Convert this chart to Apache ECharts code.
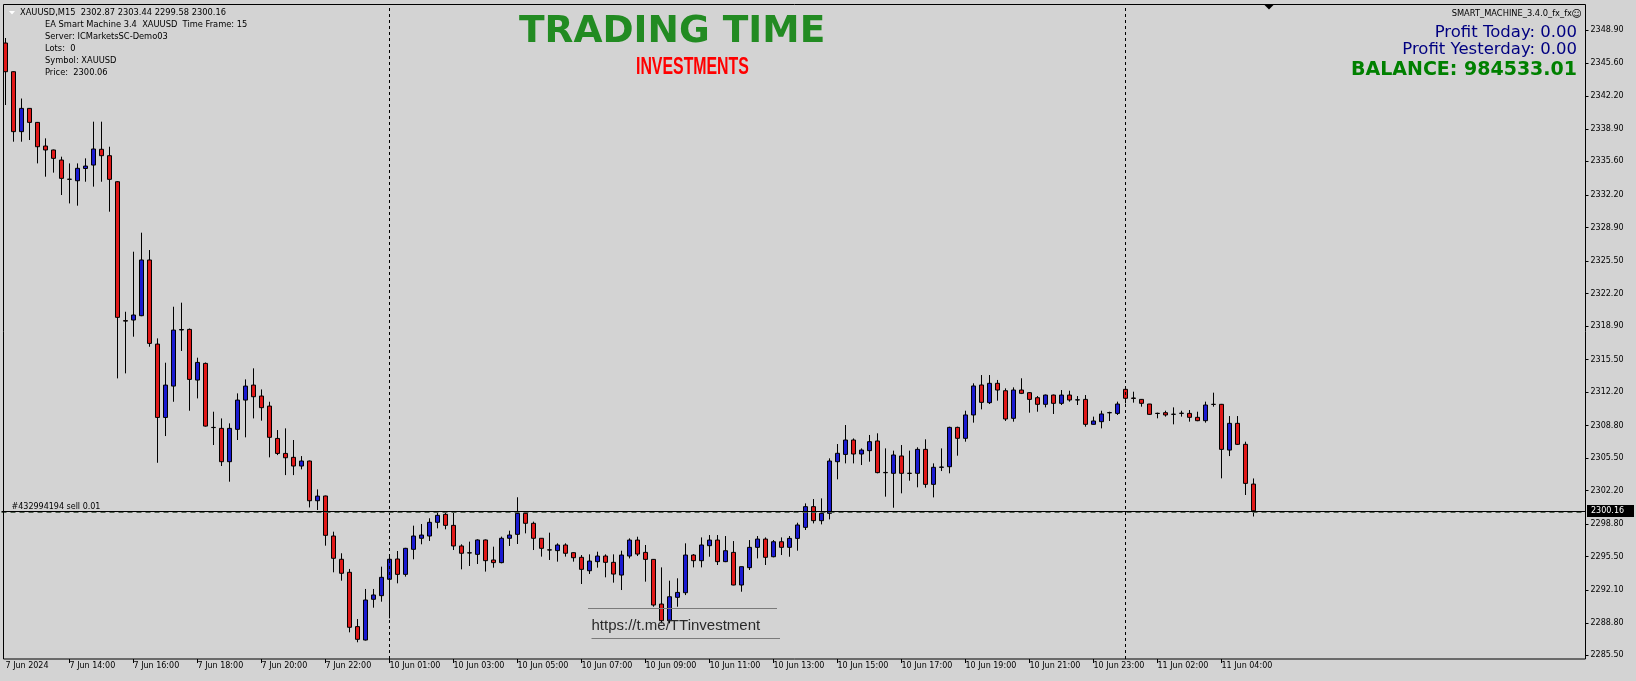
<!DOCTYPE html>
<html><head><meta charset="utf-8">
<script src="https://cdn.jsdelivr.net/npm/echarts@6/dist/echarts.min.js"></script>
<style>html,body{margin:0;padding:0;background:#D3D3D3;overflow:hidden}#c{width:1636px;height:681px}</style>
</head><body><div id="c"></div>
<script>
// 15-minute XAUUSD bars, 7 Jun 12:00 .. 11 Jun 05:00
const opens = [2347.61,2344.70,2338.62,2340.98,2339.56,2337.16,2336.76,2335.74,2333.80,2333.64,
2334.88,2335.23,2336.83,2336.18,2333.54,2319.45,2319.51,2319.95,2325.60,2317.07,
2309.63,2312.81,2318.50,2318.56,2313.42,2315.11,2308.62,2308.52,2305.14,2308.42,
2311.39,2312.91,2311.80,2310.78,2307.50,2305.98,2305.58,2304.70,2305.21,2301.18,
2301.66,2297.60,2295.24,2293.92,2288.41,2287.05,2291.18,2291.55,2293.21,2295.27,
2293.71,2296.25,2297.37,2297.60,2298.99,2299.80,2298.68,2296.59,2295.90,2295.74,
2297.20,2295.17,2294.90,2297.37,2297.77,2299.90,2298.89,2297.37,2296.20,2296.12,
2296.69,2295.91,2295.44,2294.08,2295.00,2295.57,2294.93,2293.64,2295.57,2297.19,
2295.94,2295.23,2290.70,2289.01,2291.38,2291.85,2295.67,2295.10,2296.62,2297.19,
2295.00,2295.94,2292.63,2294.39,2296.45,2297.29,2295.50,2297.02,2296.45,2297.36,
2298.48,2300.58,2299.16,2299.90,2305.14,2305.88,2307.34,2305.92,2306.26,2307.24,
2304.05,2303.96,2305.72,2303.97,2303.96,2306.39,2302.84,2304.57,2304.63,2308.62,
2307.51,2309.88,2312.92,2311.13,2313.09,2312.34,2309.54,2312.41,2312.14,2311.63,
2310.96,2311.90,2311.06,2311.90,2311.40,2311.46,2308.93,2309.20,2310.10,2310.04,
2312.48,2311.60,2311.46,2310.99,2310.05,2310.11,2309.94,2310.04,2310.04,2309.64,
2309.30,2310.96,2310.96,2306.32,2309.03,2306.90,2302.87];
const highs = [2348.12,2344.75,2341.98,2341.00,2339.60,2337.94,2336.80,2336.08,2335.40,2335.40,
2335.91,2339.63,2339.63,2337.09,2333.60,2320.35,2326.44,2328.37,2326.61,2317.65,
2315.18,2320.86,2321.27,2318.65,2315.69,2315.20,2310.21,2309.53,2309.03,2312.07,
2313.49,2314.61,2312.47,2311.22,2308.35,2308.52,2307.34,2305.71,2305.25,2302.33,
2301.70,2298.04,2295.85,2294.26,2289.18,2292.23,2292.23,2294.49,2295.68,2296.08,
2296.40,2298.65,2298.82,2299.40,2300.07,2300.07,2299.97,2296.76,2297.03,2297.27,
2297.25,2296.52,2297.54,2298.14,2301.53,2300.07,2299.06,2297.40,2297.94,2296.86,
2296.86,2295.95,2295.67,2295.74,2296.01,2295.74,2295.74,2296.11,2297.36,2297.53,
2296.69,2295.27,2294.42,2293.07,2293.31,2296.86,2295.77,2297.46,2297.70,2297.70,
2297.60,2297.09,2294.50,2297.19,2297.60,2297.46,2297.19,2297.46,2297.60,2298.95,
2300.91,2301.35,2301.42,2305.48,2306.93,2308.86,2307.50,2306.49,2307.85,2308.02,
2306.49,2306.26,2306.83,2306.26,2306.60,2307.41,2304.97,2306.49,2308.69,2308.69,
2310.31,2313.09,2313.93,2313.93,2313.43,2312.58,2312.68,2313.60,2312.20,2311.80,
2311.95,2311.95,2312.41,2312.34,2311.80,2311.90,2309.71,2310.31,2310.21,2311.23,
2312.75,2312.24,2311.50,2311.00,2310.11,2310.31,2310.65,2310.31,2310.38,2310.21,
2311.23,2312.14,2311.00,2309.77,2309.77,2307.17,2303.44];
const lows = [2341.32,2337.60,2337.60,2337.77,2335.40,2334.05,2334.46,2332.19,2331.34,2331.11,
2333.54,2333.04,2333.54,2330.50,2313.59,2314.10,2317.82,2319.90,2316.80,2305.03,
2307.74,2311.22,2316.37,2310.31,2311.56,2308.70,2306.83,2304.70,2303.11,2307.34,
2307.61,2309.53,2309.30,2305.58,2305.81,2303.78,2303.78,2304.36,2300.50,2300.24,
2296.62,2293.92,2293.07,2287.83,2286.82,2287.00,2290.33,2290.94,2289.25,2292.80,
2293.48,2295.24,2296.76,2297.10,2298.38,2298.28,2296.18,2294.22,2294.56,2294.76,
2293.99,2294.39,2294.83,2296.59,2296.79,2297.87,2296.18,2295.51,2295.17,2295.00,
2295.51,2295.00,2292.73,2293.75,2294.39,2293.41,2292.87,2292.12,2295.33,2295.57,
2292.97,2290.43,2288.74,2288.74,2290.43,2291.61,2294.42,2294.42,2295.50,2294.66,
2294.95,2292.60,2291.95,2294.15,2295.33,2294.66,2295.44,2295.67,2295.50,2296.11,
2298.21,2298.88,2298.78,2299.29,2303.35,2304.97,2304.97,2304.80,2305.14,2303.96,
2301.59,2300.47,2301.93,2303.21,2302.54,2302.50,2301.52,2304.19,2303.96,2305.75,
2307.17,2309.10,2310.45,2310.99,2311.33,2309.27,2309.20,2312.00,2310.11,2310.21,
2310.65,2309.98,2310.89,2311.23,2310.89,2308.69,2308.90,2308.52,2309.27,2309.88,
2311.06,2311.13,2310.72,2309.90,2309.54,2309.71,2308.93,2309.71,2309.20,2309.25,
2309.10,2310.72,2303.45,2305.71,2306.83,2301.76,2299.58];
const closes = [2344.70,2338.62,2340.98,2339.56,2337.09,2336.76,2335.91,2333.88,2333.78,2334.90,
2335.13,2336.86,2336.18,2333.78,2319.78,2319.40,2320.02,2325.60,2317.14,2309.63,
2312.91,2318.49,2318.55,2313.49,2315.21,2308.75,2308.60,2305.14,2308.52,2311.39,
2312.81,2311.73,2310.62,2307.61,2305.98,2305.54,2304.70,2305.21,2301.18,2301.65,
2297.67,2295.34,2293.82,2288.34,2287.12,2291.11,2291.62,2293.41,2295.24,2293.71,
2296.35,2297.60,2297.70,2298.99,2299.70,2298.68,2296.59,2295.85,2295.88,2297.20,
2295.10,2294.90,2297.37,2297.70,2299.90,2298.89,2297.37,2296.35,2296.18,2296.69,
2295.85,2295.40,2294.22,2295.06,2295.57,2294.93,2293.74,2295.67,2297.19,2295.77,
2295.23,2290.60,2289.01,2291.44,2291.88,2295.67,2295.10,2296.69,2297.19,2295.00,
2296.11,2292.63,2294.49,2296.45,2297.29,2295.44,2297.02,2296.45,2297.36,2298.72,
2300.58,2299.16,2299.90,2305.21,2305.99,2307.34,2305.92,2306.32,2307.17,2304.03,
2304.02,2305.82,2303.96,2303.95,2306.39,2302.84,2304.57,2304.60,2308.62,2307.51,
2309.88,2312.82,2311.16,2313.09,2312.41,2309.47,2312.41,2312.07,2311.46,2310.96,
2311.90,2311.06,2311.90,2311.40,2311.42,2308.93,2309.27,2309.98,2310.12,2310.99,
2311.57,2311.56,2311.06,2309.94,2310.03,2309.88,2309.96,2310.06,2309.64,2309.30,
2310.89,2310.95,2306.39,2309.03,2306.90,2302.94,2300.16];
// time-axis tick labels, one every 8 bars (2 hours)
const xTickLabels = ['7 Jun 2024','7 Jun 14:00','7 Jun 16:00','7 Jun 18:00','7 Jun 20:00','7 Jun 22:00',
'10 Jun 01:00','10 Jun 03:00','10 Jun 05:00','10 Jun 07:00','10 Jun 09:00','10 Jun 11:00','10 Jun 13:00',
'10 Jun 15:00','10 Jun 17:00','10 Jun 19:00','10 Jun 21:00','10 Jun 23:00','11 Jun 02:00','11 Jun 04:00'];
const yTickValues = [2285.50,2288.80,2292.10,2295.50,2298.80,2302.20,2305.50,2308.80,2312.20,2315.50,
2318.90,2322.20,2325.50,2328.90,2332.20,2335.60,2338.90,2342.20,2345.60,2348.90];
const bidPrice = 2300.16;
const orderPrice = 2300.06;
const daySeparatorBars = [48, 140];
const totalSlots = 198; // bars + empty chart-shift space

const chart = echarts.init(document.getElementById('c'), null, {renderer:'canvas'});
const categories = Array.from({length: totalSlots}, (_, i) => String(i));
const candles = opens.map((o, i) => [o, closes[i], lows[i], highs[i]]);
const F = '"DejaVu Sans", Verdana, sans-serif';
const hasTick = i => i % 8 === 0 && !!xTickLabels[i / 8];

chart.setOption({
  animation: false,
  backgroundColor: '#D3D3D3',
  grid: {left: 1.5, top: 4, width: 1584, height: 655, show: false},
  xAxis: {
    type: 'category', data: categories, boundaryGap: true,
    axisLine: {show: false},
    axisTick: {show: true, interval: (i) => hasTick(i) && i > 0, alignWithLabel: true, length: 4, lineStyle: {color: '#000'}},
    axisLabel: {interval: (i) => hasTick(i), align: 'left', margin: 3, color: '#000', fontSize: 8, fontFamily: F,
      formatter: (v, i) => hasTick(i) ? xTickLabels[i / 8] : ''},
    splitLine: {show: false}
  },
  yAxis: {
    type: 'value', position: 'right', min: 2285.125, max: 2351.568, scale: true,
    axisLine: {show: false},
    axisTick: {show: true, customValues: yTickValues, length: 3, lineStyle: {color: '#000'}},
    axisLabel: {customValues: yTickValues, formatter: v => v.toFixed(2), margin: 5, color: '#000', fontSize: 8, fontFamily: F},
    splitLine: {show: false}
  },
  series: [{
    type: 'candlestick', data: candles, barWidth: 5,
    itemStyle: {color: '#1A1AD0', color0: '#E01818', borderColor: '#000', borderColor0: '#000', borderColorDoji: '#000', borderWidth: 1},
    markLine: {
      silent: true, symbol: ['none', 'none'], label: {show: false}, animation: false,
      data: [
        ...daySeparatorBars.map(b => ({xAxis: b, lineStyle: {color: '#000', width: 1, type: [3, 3]}})),
        {yAxis: orderPrice, lineStyle: {color: '#4E5E4E', width: 1, type: [5, 4]}},
        {yAxis: bidPrice, lineStyle: {color: '#000', width: 1, type: 'solid'}}
      ]
    }
  }]
});

const bidY = chart.convertToPixel({yAxisIndex: 0}, bidPrice);
const orderY = chart.convertToPixel({yAxisIndex: 0}, orderPrice);
const last = opens.length - 1;
const head = 'XAUUSD,M15  ' + [opens[last], highs[last], lows[last], closes[last]].map(v => v.toFixed(2)).join(' ');
function t(text, x, y, font, fill, align, extra) {
  return Object.assign({type: 'text', z: 100, style: {text, x, y, font, fill, textAlign: align || 'left', textVerticalAlign: 'middle'}}, extra || {});
}
const small = '8.3px ' + F;
chart.setOption({graphic: [
  {type: 'rect', z: 100, shape: {x: 3.5, y: 4.5, width: 1582, height: 654.5}, style: {fill: null, stroke: '#000', lineWidth: 1}},
  {type: 'polygon', z: 100, shape: {points: [[9, 11], [15, 11], [12, 14.5]]}, style: {fill: '#fff'}},
  {type: 'polygon', z: 100, shape: {points: [[1264.5, 5], [1273.5, 5], [1269, 9.5]]}, style: {fill: '#000'}},
  t(head, 20, 12.7, small, '#000'),
  t('EA Smart Machine 3.4  XAUUSD  Time Frame: 15', 45, 25.3, small, '#000'),
  t('Server: ICMarketsSC-Demo03', 45, 37.3, small, '#000'),
  t('Lots:  0', 45, 49.3, small, '#000'),
  t('Symbol: XAUUSD', 45, 61.3, small, '#000'),
  t('Price:  2300.06', 45, 73, small, '#000'),
  t('TRADING TIME', 519, 32, 'bold 37.5px ' + F, '#228B22'),
  {type: 'text', z: 100, x: 636, y: 67.5, scaleX: 0.69, scaleY: 1,
    style: {text: 'INVESTMENTS', x: 0, y: 0, font: 'bold 23px "Liberation Sans", Arial, sans-serif', fill: '#FF0000', textAlign: 'left', textVerticalAlign: 'middle'}},
  t('SMART_MACHINE_3.4.0_fx_fx', 1572, 14, small, '#000', 'right'),
  t('\u263A', 1576.5, 14, '10px ' + F, '#000', 'center'),
  t('Profit Today: 0.00', 1577, 33, '16.5px ' + F, '#000080', 'right'),
  t('Profit Yesterday: 0.00', 1577, 50, '16.5px ' + F, '#000080', 'right'),
  t('BALANCE: 984533.01', 1577, 70.5, 'bold 19px ' + F, '#008000', 'right'),
  t('#432994194 sell 0.01', 11.5, orderY - 5, '8px ' + F, '#000'),
  {type: 'line', z: 100, shape: {x1: 588, y1: 608.5, x2: 777, y2: 608.5}, style: {stroke: '#7A7A7A', lineWidth: 1}},
  {type: 'line', z: 100, shape: {x1: 591.5, y1: 638.5, x2: 780, y2: 638.5}, style: {stroke: '#7A7A7A', lineWidth: 1}},
  t('https://t.me/TTinvestment', 591.5, 626, '15px "Liberation Sans", Arial, sans-serif', '#2A2A2A'),
  {type: 'rect', z: 100, shape: {x: 1587, y: Math.round(bidY) - 6, width: 47, height: 12}, style: {fill: '#000'}},
  t(bidPrice.toFixed(2), 1591, Math.round(bidY), '8px ' + F, '#fff')
]});
</script></body></html>
